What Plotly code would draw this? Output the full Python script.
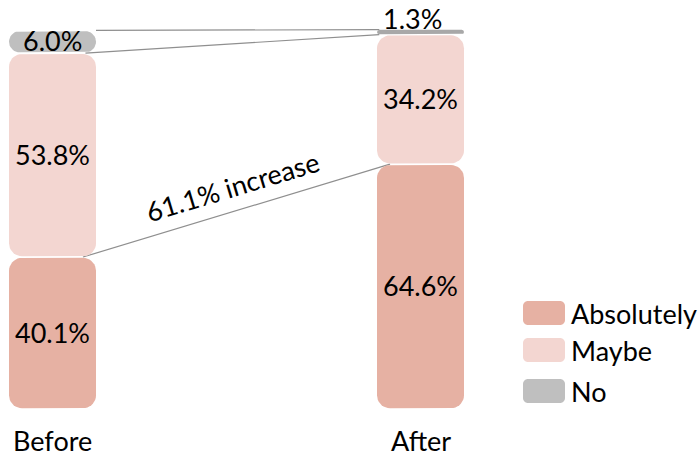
import numpy as np
import plotly.graph_objects as go

# Survey answers before and after, in percent of respondents
categories = ["Before", "After"]
responses = ["Absolutely", "Maybe", "No"]
absolutely = [40.1, 64.6]
maybe = [53.8, 34.2]
no = [6.0, 1.3]

colors = {"Absolutely": "#E6B1A3", "Maybe": "#F3D6D1", "No": "#BFBFBF"}
FONT = "Lato"
FS = 27

W, H = 699, 457
x_range = [-0.1427, 1.7568]
y_range = [-12.66, 107.92]
px_x = W / (x_range[1] - x_range[0])   # pixels per x unit
px_y = H / (y_range[1] - y_range[0])   # pixels per y unit
bar_w = 87 / px_x
radius_px = 13
gap_px = 0.8


def rounded_rect(x0, x1, y0, y1, r_px, n=10):
    """Polygon of a rounded rectangle in data units, radius given in pixels."""
    h_px = (y1 - y0) * px_y
    w_px = (x1 - x0) * px_x
    r = min(r_px, h_px / 2, w_px / 2)
    rx, ry = r / px_x, r / px_y
    xs, ys = [], []
    corners = [
        (x1 - rx, y1 - ry, 0, np.pi / 2),
        (x0 + rx, y1 - ry, np.pi / 2, np.pi),
        (x0 + rx, y0 + ry, np.pi, 1.5 * np.pi),
        (x1 - rx, y0 + ry, 1.5 * np.pi, 2 * np.pi),
    ]
    for cx, cy, a0, a1 in corners:
        t = np.linspace(a0, a1, n)
        xs += list(cx + rx * np.cos(t))
        ys += list(cy + ry * np.sin(t))
    xs.append(xs[0])
    ys.append(ys[0])
    return xs, ys, r


series = {"Absolutely": absolutely, "Maybe": maybe, "No": no}
segments = {}  # (category index, response) -> (bottom, top, radius px)
bar_traces = []
for i, cat in enumerate(categories):
    base = 0.0
    for resp in responses:
        v = series[resp][i]
        g = gap_px if v * px_y > 10 else 0.2
        y0 = base + g / px_y
        y1 = base + v - g / px_y
        x0, x1 = i - bar_w / 2, i + bar_w / 2
        xs, ys, r = rounded_rect(x0, x1, y0, y1, radius_px)
        segments[(i, resp)] = (base, base + v, r)
        bar_traces.append(go.Scatter(
            x=xs, y=ys, mode="lines", fill="toself",
            fillcolor=colors[resp] if v * px_y > 10 else "#A8A8A8",
            line=dict(width=0),
            hoverinfo="skip", showlegend=False,
        ))
        base += v

# Connector lines between matching segment boundaries
boundaries = []
for resp in responses:
    b_top = segments[(0, resp)][1]
    a_top = segments[(1, resp)][1]
    nxt = responses.index(resp) + 1
    rb = segments[(0, resp)][2]
    ra = segments[(1, resp)][2]
    if nxt < len(responses):
        rb = min(rb, segments[(0, responses[nxt])][2])
        ra = min(ra, segments[(1, responses[nxt])][2])
    else:
        rb = 0
    xb = 0 + bar_w / 2 - rb / px_x
    xa = 1 - bar_w / 2 + ra / px_x
    boundaries.append((xb, b_top, xa, a_top))

line_traces = []
for xb, yb, xa, ya in boundaries:
    line_traces.append(go.Scatter(
        x=[xb, xa], y=[yb, ya], mode="lines",
        line=dict(color="#8F8F8F", width=1.2),
        hoverinfo="skip", showlegend=False,
    ))

# connectors sit beneath the bars
fig = go.Figure(data=line_traces + bar_traces)

annotations = []
# Value labels
for i in range(len(categories)):
    for resp in responses:
        lo, hi, _ = segments[(i, resp)]
        v = series[resp][i]
        if (hi - lo) * px_y > 15:
            annotations.append(dict(
                x=i, y=(lo + hi) / 2, text=f"{v:.1f}%", showarrow=False,
                font=dict(family=FONT, size=FS, color="#000"),
                xanchor="center", yanchor="middle", yshift=1,
            ))
        else:
            annotations.append(dict(
                x=i, y=hi, text=f"{v:.1f}%", showarrow=False,
                font=dict(family=FONT, size=FS, color="#000"),
                xanchor="center", yanchor="middle", yshift=11, xshift=-8,
            ))

# Category labels
for i, cat in enumerate(categories):
    annotations.append(dict(
        x=i, y=-8.4, text=cat, showarrow=False,
        font=dict(family=FONT, size=FS, color="#000"),
        xanchor="center", yanchor="middle",
    ))

# Growth of "Absolutely" along its connector
xb, yb, xa, ya = boundaries[0]
growth = (absolutely[1] - absolutely[0]) / absolutely[0] * 100
dx_px = (xa - xb) * px_x
dy_px = (ya - yb) * px_y
ang = np.degrees(np.arctan2(dy_px, dx_px))
th = np.radians(ang)
off = 25
annotations.append(dict(
    x=(xb + xa) / 2, y=(yb + ya) / 2, text=f"{growth:.1f}% increase",
    showarrow=False, textangle=-ang,
    font=dict(family=FONT, size=FS, color="#000"),
    xanchor="center", yanchor="middle",
    xshift=-off * np.sin(th) + 3, yshift=off * np.cos(th),
))

# Legend: rounded swatches with labels
shapes = []
legend_top = [301, 338, 379]
for resp, top in zip(responses, legend_top):
    x0, x1 = 523 / W, 565 / W
    y1, y0 = 1 - top / H, 1 - (top + 24) / H
    rx, ry = 5 / W, 5 / H
    k = 0.5523
    path = (
        f"M {x0+rx},{y1} L {x1-rx},{y1} "
        f"C {x1-rx+k*rx},{y1} {x1},{y1-ry+k*ry} {x1},{y1-ry} "
        f"L {x1},{y0+ry} "
        f"C {x1},{y0+ry-k*ry} {x1-rx+k*rx},{y0} {x1-rx},{y0} "
        f"L {x0+rx},{y0} "
        f"C {x0+rx-k*rx},{y0} {x0},{y0+ry-k*ry} {x0},{y0+ry} "
        f"L {x0},{y1-ry} "
        f"C {x0},{y1-ry+k*ry} {x0+rx-k*rx},{y1} {x0+rx},{y1} Z"
    )
    shapes.append(dict(type="path", path=path, xref="paper", yref="paper",
                       fillcolor=colors[resp], line=dict(width=0)))
    annotations.append(dict(
        x=569 / W, y=1 - (top + 12) / H, xref="paper", yref="paper",
        text=resp, showarrow=False, xanchor="left", yanchor="middle",
        font=dict(family=FONT, size=FS, color="#000"),
    ))

fig.update_layout(
    width=W, height=H,
    margin=dict(l=0, r=0, t=0, b=0),
    paper_bgcolor="white", plot_bgcolor="white",
    xaxis=dict(range=x_range, visible=False, fixedrange=True),
    yaxis=dict(range=y_range, visible=False, fixedrange=True),
    shapes=shapes, annotations=annotations, showlegend=False,
)

fig.write_html("out.html")
